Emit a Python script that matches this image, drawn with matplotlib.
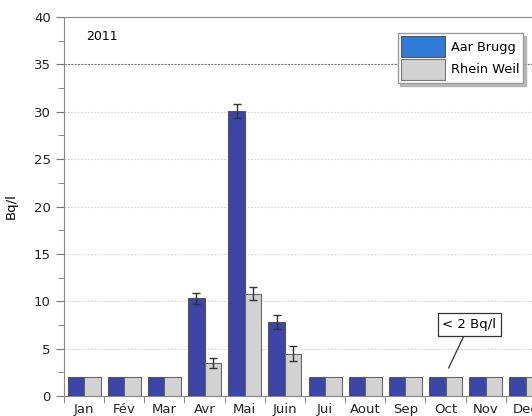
import matplotlib.pyplot as plt
import numpy as np

months = ["Jan", "Fév", "Mar", "Avr", "Mai", "Juin", "Jui", "Aout", "Sep", "Oct", "Nov", "Dec"]
aar_brugg = [2, 2, 2, 10.3, 30.1, 7.8, 2, 2, 2, 2, 2, 2]
aar_err = [0, 0, 0, 0.6, 0.75, 0.75, 0, 0, 0, 0, 0, 0]
rhein_weil = [2, 2, 2, 3.5, 10.8, 4.45, 2, 2, 2, 2, 2, 2]
rhein_err = [0, 0, 0, 0.5, 0.7, 0.8, 0, 0, 0, 0, 0, 0]

blue = "#3b46a6"
grey = "#d2d2d2"

plt.rcParams["font.family"] = "DejaVu Sans"

fig = plt.figure(figsize=(5.32, 4.16), dpi=100)
ax = fig.add_axes([0.1203, 0.048, 0.906, 0.911])

x = np.arange(len(months))
w = 0.41
err_kw = dict(elinewidth=1.0, capsize=3, capthick=1.0, ecolor="#333333")

aar_yerr = np.where(np.array(aar_err) > 0, aar_err, np.nan)
rhein_yerr = np.where(np.array(rhein_err) > 0, rhein_err, np.nan)

ax.bar(x - w / 2, aar_brugg, w, color=blue, edgecolor="#555555", linewidth=0.8,
       yerr=aar_yerr, error_kw=err_kw, zorder=3)
ax.bar(x + w / 2, rhein_weil, w, color=grey, edgecolor="#666666", linewidth=0.8,
       yerr=rhein_yerr, error_kw=err_kw, zorder=3)

ax.set_xlim(-0.5, len(months) - 0.5)
ax.set_ylim(0, 40)
ax.set_yticks(np.arange(0, 41, 5))
ax.set_yticks(np.arange(2.5, 40, 5), minor=True)
ax.set_xticks(x)
ax.set_xticklabels(months)
ax.set_xticks(np.arange(-0.5, len(months), 1), minor=True)
ax.tick_params(axis="x", which="major", length=0, labelsize=9.5, pad=5, colors="#222222")
ax.tick_params(axis="x", which="minor", length=5, color="#777777")
ax.tick_params(axis="y", which="major", length=6, labelsize=9.5, color="#777777", labelcolor="#222222")
ax.tick_params(axis="y", which="minor", length=4, color="#777777")

for v in range(5, 40, 5):
    if v == 35:
        ax.axhline(v, color="#777777", lw=0.8, ls=(0, (2, 1)), zorder=1)
    else:
        ax.axhline(v, color="#d4d4d4", lw=0.8, ls=(0, (1.5, 1.5)), zorder=1)

for side in ["left", "top", "bottom"]:
    ax.spines[side].set_color("#888888")
ax.spines["right"].set_visible(False)

ax.set_ylabel("Bq/l", fontsize=9.5)
ax.yaxis.set_label_coords(-0.095, 0.5)
ax.text(0.05, 37.9, "2011", fontsize=9, va="center", ha="left")

ax.annotate("< 2 Bq/l", xy=(9.075, 2.95), xytext=(9.59, 7.55),
            fontsize=9.5, ha="center", va="center",
            bbox=dict(boxstyle="square,pad=0.35", fc="white", ec="#333333", lw=0.9),
            arrowprops=dict(arrowstyle="-", color="#333333", lw=0.9, shrinkA=0, shrinkB=0))

h1 = plt.Rectangle((0, 0), 1, 1, fc="#2f7ad6", ec="#555555", lw=0.8)
h2 = plt.Rectangle((0, 0), 1, 1, fc=grey, ec="#777777", lw=0.8)
leg = fig.legend([h1, h2], ["Aar Brugg", "Rhein Weil"], loc="upper right",
                 bbox_to_anchor=(523 / 532, 1 - 33 / 416), fontsize=9.3,
                 handlelength=3.4, handleheight=2.1, handletextpad=0.5,
                 borderpad=0.25, labelspacing=0.15, borderaxespad=0,
                 fancybox=False, shadow={"color": "#aaaaaa", "alpha": 0.8},
                 framealpha=1, edgecolor="#999999")

fig.savefig("out.png", dpi=100)
